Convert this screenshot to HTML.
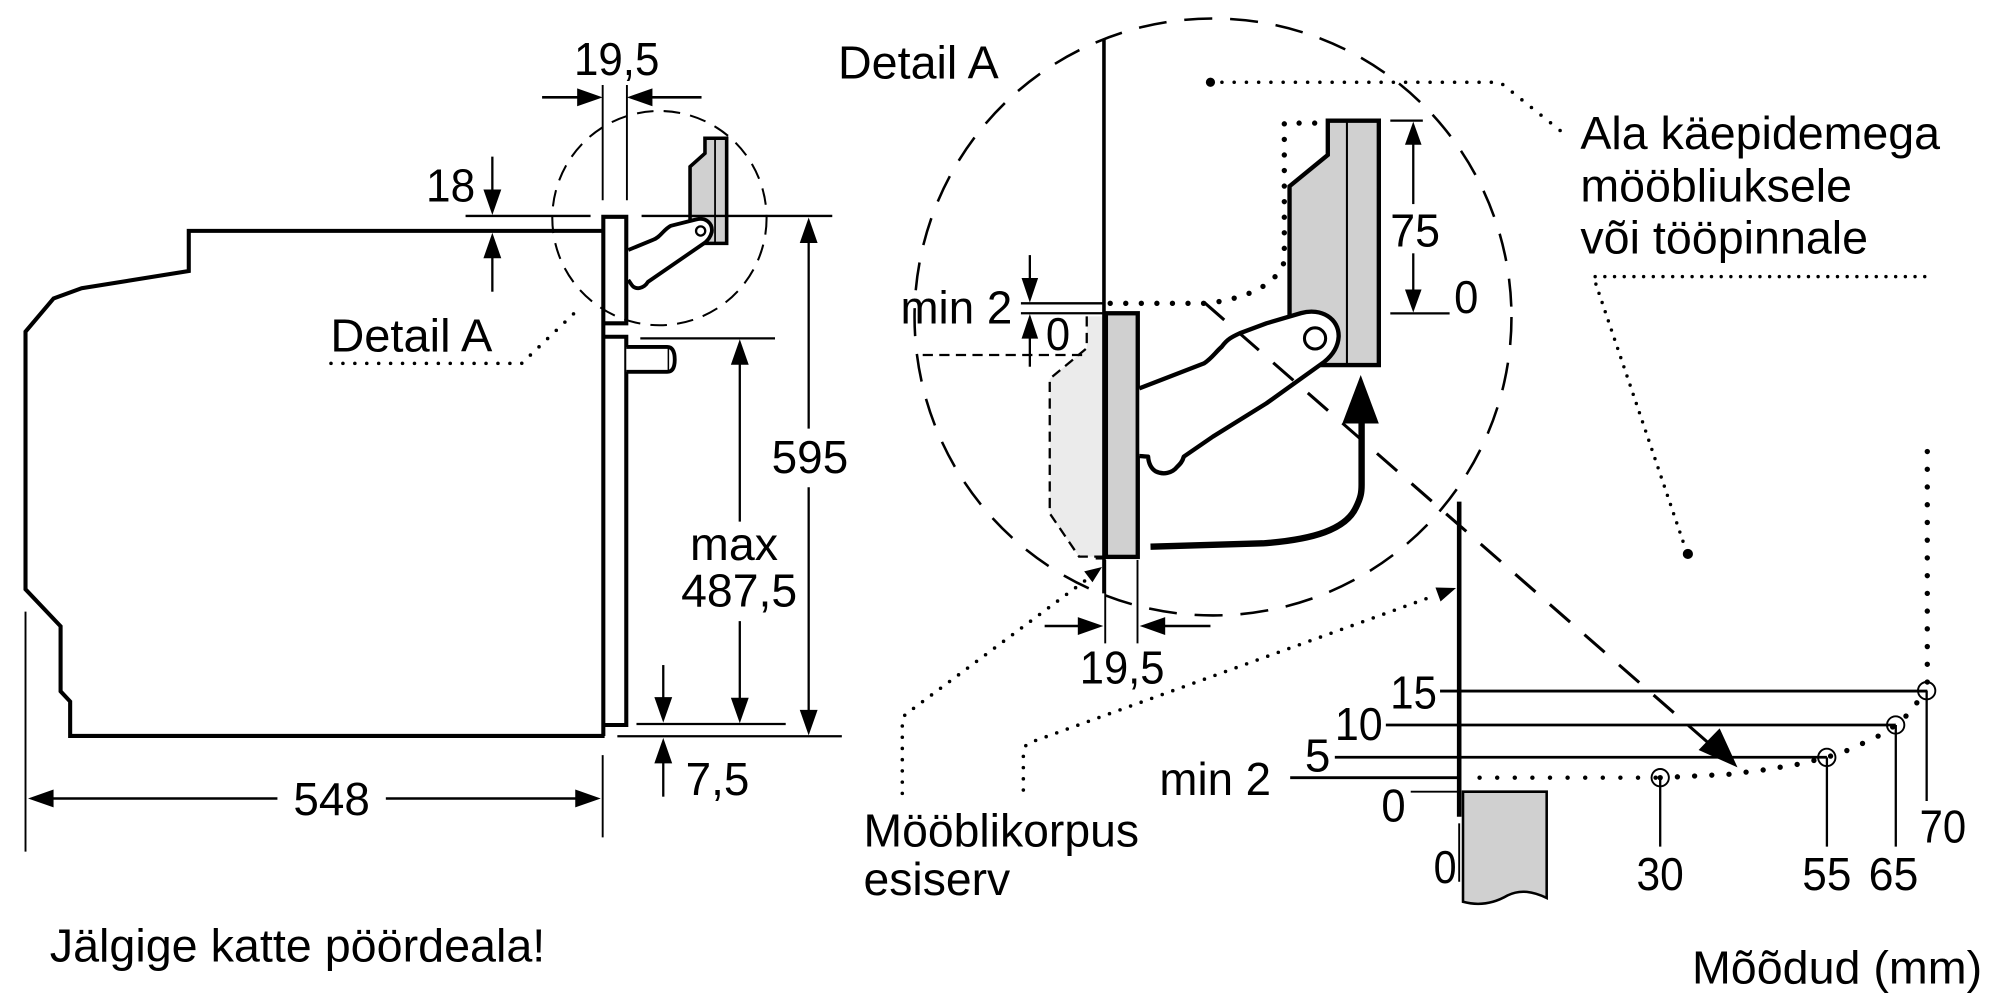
<!DOCTYPE html>
<html><head><meta charset="utf-8"><style>
html,body{margin:0;padding:0;background:#fff;}
svg{display:block;}
text{font-family:"Liberation Sans",Arial,sans-serif;font-size:36px;fill:#000;}
</style></head><body>
<svg width="2000" height="1000" viewBox="0 0 1568 784" preserveAspectRatio="none" xmlns="http://www.w3.org/2000/svg">
<rect x="0" y="0" width="1568" height="784" fill="#fff"/>

<!-- ================= LEFT: OVEN SIDE VIEW ================= -->
<circle cx="517" cy="171" r="84" fill="none" stroke="#000" stroke-width="1.6" stroke-dasharray="13 8"/>

<path d="M474,181 L148,181 L148,212.5 L64,226 L42,234 L20,260 L20,462 L47.5,491 L47.5,542 L55,550 L55,577 L474,577" fill="none" stroke="#000" stroke-width="3.2" stroke-linejoin="miter"/>
<path d="M473,577 L473,170 L491,170 L491,253.5 L473,253.5 M473,264 L491,264 L491,568.4 L473,568.4" fill="none" stroke="#000" stroke-width="3.2"/>
<path d="M491,272 L523,272 Q529,272 529,282 Q529,291.5 523,291.5 L491,291.5" fill="#fff" stroke="#000" stroke-width="3"/>
<line x1="524" y1="273" x2="524" y2="290.5" stroke="#000" stroke-width="1.2"/>

<polygon points="552.7,108.4 569.7,108.4 569.7,190.8 541,190.8 541,130.7 552.7,120.2" fill="#d0d0d0" stroke="#000" stroke-width="2.8"/>
<line x1="560.6" y1="109" x2="560.6" y2="190" stroke="#000" stroke-width="1.4"/>
<path d="M492.6,196 L512,188 C518,186 520,180 526,177 L546,172 C553,170 559,175 558,182 C557,186 555,188 553,190 L508,221 C505,226 498,228 495,223 L492.6,219.5" fill="#fff" stroke="#000" stroke-width="3"/>
<circle cx="549.3" cy="181.1" r="3.6" fill="#fff" stroke="#000" stroke-width="1.8"/>

<line x1="472.5" y1="66.6" x2="472.5" y2="157" stroke="#000" stroke-width="1.5"/>
<line x1="491.5" y1="66.6" x2="491.5" y2="157" stroke="#000" stroke-width="1.5"/>
<line x1="425" y1="76.3" x2="455" y2="76.3" stroke="#000" stroke-width="2"/>
<polygon points="472.5,76.3 452.5,69.3 452.5,83.3" fill="#000"/>
<line x1="510" y1="76.3" x2="550" y2="76.3" stroke="#000" stroke-width="2"/>
<polygon points="491.5,76.3 511.5,69.3 511.5,83.3" fill="#000"/>
<text x="450" y="59" textLength="67" lengthAdjust="spacingAndGlyphs">19,5</text>

<line x1="365" y1="169.3" x2="463" y2="169.3" stroke="#000" stroke-width="1.8"/>
<line x1="503" y1="169.3" x2="652.5" y2="169.3" stroke="#000" stroke-width="1.8"/>
<line x1="386" y1="122.8" x2="386" y2="150" stroke="#000" stroke-width="1.8"/>
<polygon points="386,168.6 379,148.6 393,148.6" fill="#000"/>
<line x1="386" y1="200" x2="386" y2="228.7" stroke="#000" stroke-width="1.8"/>
<polygon points="386,182.5 379,202.5 393,202.5" fill="#000"/>
<text x="334" y="158" textLength="38.5" lengthAdjust="spacingAndGlyphs">18</text>

<text x="259" y="275.7" textLength="127" lengthAdjust="spacingAndGlyphs">Detail A</text>
<path d="M259.5,284.9 L409,284.9 L456,240" fill="none" stroke="#000" stroke-width="2.8" stroke-linecap="round" stroke-dasharray="0 9.35"/>

<line x1="634" y1="188" x2="634" y2="336" stroke="#000" stroke-width="1.8"/>
<polygon points="634,170.5 627,190.5 641,190.5" fill="#000"/>
<line x1="634" y1="382" x2="634" y2="558" stroke="#000" stroke-width="1.8"/>
<polygon points="634,576.5 627,556.5 641,556.5" fill="#000"/>
<line x1="484" y1="577.2" x2="660" y2="577.2" stroke="#000" stroke-width="1.8"/>
<text x="605" y="371" textLength="60" lengthAdjust="spacingAndGlyphs">595</text>

<line x1="502" y1="265.3" x2="607.6" y2="265.3" stroke="#000" stroke-width="1.8"/>
<line x1="580" y1="284" x2="580" y2="409" stroke="#000" stroke-width="1.8"/>
<polygon points="580,266 573,286 587,286" fill="#000"/>
<line x1="580" y1="487" x2="580" y2="549" stroke="#000" stroke-width="1.8"/>
<polygon points="580,567 573,547 587,547" fill="#000"/>
<line x1="499" y1="567.6" x2="616" y2="567.6" stroke="#000" stroke-width="1.8"/>
<text x="541" y="439" textLength="69" lengthAdjust="spacingAndGlyphs">max</text>
<text x="534" y="475.6" textLength="91" lengthAdjust="spacingAndGlyphs">487,5</text>

<line x1="520" y1="521.4" x2="520" y2="548" stroke="#000" stroke-width="1.8"/>
<polygon points="520,566.5 513,546.5 527,546.5" fill="#000"/>
<line x1="520" y1="596" x2="520" y2="624.6" stroke="#000" stroke-width="1.8"/>
<polygon points="520,578.5 513,598.5 527,598.5" fill="#000"/>
<text x="537.5" y="623.3" textLength="50" lengthAdjust="spacingAndGlyphs">7,5</text>

<line x1="20" y1="479.5" x2="20" y2="667.7" stroke="#000" stroke-width="1.5"/>
<line x1="472.5" y1="592" x2="472.5" y2="656.5" stroke="#000" stroke-width="1.5"/>
<line x1="40" y1="626" x2="217.5" y2="626" stroke="#000" stroke-width="2"/>
<line x1="302.5" y1="626" x2="452" y2="626" stroke="#000" stroke-width="2"/>
<polygon points="22,626 42,619 42,633" fill="#000"/>
<polygon points="471,626 451,619 451,633" fill="#000"/>
<text x="230" y="639" textLength="60" lengthAdjust="spacingAndGlyphs">548</text>

<text x="39" y="754" textLength="388.5" lengthAdjust="spacingAndGlyphs">Jälgige katte pöördeala!</text>

<!-- ================= MIDDLE: DETAIL A ================= -->
<circle cx="951" cy="248.5" r="234" fill="none" stroke="#000" stroke-width="2" stroke-dasharray="22 14"/>
<text x="657" y="61.4" textLength="126" lengthAdjust="spacingAndGlyphs">Detail A</text>

<path d="M852,248 L852,273 L823,297 L823,402.5 L846,436.4 L867,436.4 L867,248 Z" fill="#ebebeb" stroke="none"/>
<path d="M852,248 L852,273 L823,297 L823,402.5 L846,436.4 L867,436.4" fill="none" stroke="#000" stroke-width="1.8" stroke-dasharray="8 5"/>
<line x1="723.4" y1="278.3" x2="852" y2="278.3" stroke="#000" stroke-width="1.8" stroke-dasharray="8 5"/>

<line x1="865.5" y1="30.6" x2="865.5" y2="465.2" stroke="#000" stroke-width="2.8"/>
<rect x="867" y="245.6" width="25" height="191" fill="#d0d0d0" stroke="#000" stroke-width="3.4"/>
<line x1="859" y1="437.5" x2="867" y2="437.5" stroke="#000" stroke-width="2.4"/>

<line x1="800.4" y1="237.8" x2="866" y2="237.8" stroke="#000" stroke-width="1.8"/>
<line x1="800.4" y1="245.6" x2="866" y2="245.6" stroke="#000" stroke-width="1.8"/>
<line x1="807.4" y1="200" x2="807.4" y2="220" stroke="#000" stroke-width="1.8"/>
<polygon points="807.4,237.3 800.9,218 813.9,218" fill="#000"/>
<line x1="807.4" y1="265" x2="807.4" y2="287.5" stroke="#000" stroke-width="1.8"/>
<polygon points="807.4,246.2 800.9,265.5 813.9,265.5" fill="#000"/>
<text x="706" y="253.5" textLength="87.6" lengthAdjust="spacingAndGlyphs">min 2</text>
<text x="820" y="274.4" textLength="19" lengthAdjust="spacingAndGlyphs">0</text>

<polygon points="1041,94.6 1081,94.6 1081,286.2 1011,286.2 1011,146 1041,121.5" fill="#d0d0d0" stroke="#000" stroke-width="3.4"/>
<line x1="1056" y1="95" x2="1056" y2="286" stroke="#000" stroke-width="1.6"/>

<path d="M870.4,237.8 L947,237.8 C975,234 1000,225 1006.9,205 L1006.9,96.5 L1036,96.5" fill="none" stroke="#000" stroke-width="4.2" stroke-linecap="round" stroke-dasharray="0 12.2"/>

<path d="M893.2,304.5 L943.9,284.9 C950,281 953,276 957.9,271.8 C962,266 966,264 971.9,261.3 L992.9,253.5 L1020,245.5 C1036,241 1050,250 1049.5,264 C1049,273 1044,279 1038.4,283.6 L992.9,316.2 L950.9,342.3 L928.1,358 C927,362 925,364 922.9,366 C919,371 912,372.5 906,369.5 C902,367 900.5,363 900.1,358 L893.2,357.5" fill="#fff" stroke="#000" stroke-width="3.4" stroke-linejoin="round"/>
<circle cx="1031" cy="265.3" r="8.3" fill="#fff" stroke="#000" stroke-width="2.4"/>

<path d="M902,428.6 L990,426 C1030,423 1055,415 1063,398 C1067,390 1067.5,386 1067.5,380 L1067.5,328" fill="none" stroke="#000" stroke-width="5"/>
<polygon points="1066.8,294 1052.4,332 1081,332" fill="#000"/>

<line x1="944" y1="237" x2="1340" y2="583" stroke="#000" stroke-width="2.4" stroke-dasharray="21 15"/>
<polygon points="1362.2,601.6 1331.7,588 1348.2,571" fill="#000"/>

<line x1="1090" y1="94.6" x2="1115.5" y2="94.6" stroke="#000" stroke-width="1.8"/>
<line x1="1090" y1="245.7" x2="1136.5" y2="245.7" stroke="#000" stroke-width="1.8"/>
<line x1="1108" y1="112" x2="1108" y2="160" stroke="#000" stroke-width="1.8"/>
<polygon points="1108,95.4 1101.5,113.5 1114.5,113.5" fill="#000"/>
<line x1="1108" y1="198.6" x2="1108" y2="228" stroke="#000" stroke-width="1.8"/>
<polygon points="1108,245 1101.5,227 1114.5,227" fill="#000"/>
<text x="1090" y="193.4" textLength="39" lengthAdjust="spacingAndGlyphs">75</text>
<text x="1140" y="245.6" textLength="19" lengthAdjust="spacingAndGlyphs">0</text>

<line x1="866.5" y1="439" x2="866.5" y2="504.4" stroke="#000" stroke-width="1.5"/>
<line x1="891.8" y1="439" x2="891.8" y2="504.4" stroke="#000" stroke-width="1.5"/>
<line x1="819" y1="490.8" x2="847" y2="490.8" stroke="#000" stroke-width="2"/>
<polygon points="865,490.8 845,483.8 845,497.8" fill="#000"/>
<line x1="911" y1="490.8" x2="949" y2="490.8" stroke="#000" stroke-width="2"/>
<polygon points="893.5,490.8 913.5,483.8 913.5,497.8" fill="#000"/>
<text x="846.5" y="535.7" textLength="66.5" lengthAdjust="spacingAndGlyphs">19,5</text>

<circle cx="949" cy="64.5" r="3.6" fill="#000"/>
<path d="M958,64.5 L1176,64.5 L1224,103" fill="none" stroke="#000" stroke-width="2.8" stroke-linecap="round" stroke-dasharray="0 9.6"/>
<text x="1239" y="117" textLength="282" lengthAdjust="spacingAndGlyphs">Ala käepidemega</text>
<text x="1239" y="158" textLength="213" lengthAdjust="spacingAndGlyphs">mööbliuksele</text>
<text x="1239" y="198.6" textLength="225.6" lengthAdjust="spacingAndGlyphs">või tööpinnale</text>
<path d="M1509,216.9 L1249.2,216.9 L1320,426" fill="none" stroke="#000" stroke-width="2.7" stroke-linecap="round" stroke-dasharray="0 7.6"/>
<circle cx="1323.3" cy="434.3" r="4" fill="#000"/>

<path d="M707.4,622 L707.4,567 Q707.5,561 712,558.5 L855,452" fill="none" stroke="#000" stroke-width="2.8" stroke-linecap="round" stroke-dasharray="0 8.8"/>
<polygon points="864,444.5 856.5,456.5 850,448" fill="#000"/>
<path d="M802.3,619.4 L802.3,590.6 Q802.5,584 808,582 L1126,466.5" fill="none" stroke="#000" stroke-width="2.8" stroke-linecap="round" stroke-dasharray="0 8.8"/>
<polygon points="1141.5,461 1129.4,471.6 1125.4,460.6" fill="#000"/>
<text x="677" y="663.8" textLength="216" lengthAdjust="spacingAndGlyphs">Mööblikorpus</text>
<text x="677" y="701.7" textLength="115" lengthAdjust="spacingAndGlyphs">esiserv</text>

<!-- ================= RIGHT: GRAPH ================= -->
<line x1="1511" y1="354" x2="1511" y2="535" stroke="#000" stroke-width="4.2" stroke-linecap="round" stroke-dasharray="0 13.9"/>

<line x1="1129" y1="541.8" x2="1511" y2="541.8" stroke="#000" stroke-width="2.2"/>
<line x1="1086.5" y1="568.4" x2="1486.3" y2="568.4" stroke="#000" stroke-width="2.2"/>
<line x1="1046.5" y1="593.7" x2="1432.3" y2="593.7" stroke="#000" stroke-width="2.2"/>
<line x1="1011.5" y1="609.7" x2="1143" y2="609.7" stroke="#000" stroke-width="2.2"/>
<line x1="1106" y1="620.7" x2="1143" y2="620.7" stroke="#000" stroke-width="1.5"/>

<path d="M1147,620.7 L1212.6,620.7 L1212.6,704 C1202,699 1192,697 1182,702 C1170,709 1158,710 1147,707 Z" fill="#d0d0d0" stroke="#000" stroke-width="2"/>
<line x1="1144" y1="393.3" x2="1144" y2="640.3" stroke="#000" stroke-width="3.6"/>
<line x1="1144" y1="645.5" x2="1144" y2="691.3" stroke="#000" stroke-width="1.5"/>

<line x1="1301.6" y1="609.7" x2="1301.6" y2="663.8" stroke="#000" stroke-width="1.8"/>
<line x1="1432.3" y1="593.8" x2="1432.3" y2="663.8" stroke="#000" stroke-width="1.8"/>
<line x1="1486.3" y1="568.4" x2="1486.3" y2="663.8" stroke="#000" stroke-width="1.8"/>
<line x1="1510.5" y1="541.5" x2="1510.5" y2="628" stroke="#000" stroke-width="1.8"/>

<line x1="1160" y1="609.7" x2="1300" y2="609.7" stroke="#000" stroke-width="3.5" stroke-linecap="round" stroke-dasharray="0 13.8"/>
<polyline points="1301.6,609.7 1354.8,607.1 1382.1,603.7 1409.6,599.2 1432.2,593.8 1449.2,588 1474.2,576.3 1486.2,568.4 1496.7,559.3 1505,548 1510.2,541.5" fill="none" stroke="#000" stroke-width="4.2" stroke-linecap="round" stroke-dasharray="0 13.5"/>

<circle cx="1301.6" cy="609.7" r="6.8" fill="none" stroke="#000" stroke-width="1.5"/>
<circle cx="1432.2" cy="593.8" r="6.8" fill="none" stroke="#000" stroke-width="1.5"/>
<circle cx="1486.2" cy="568.4" r="6.8" fill="none" stroke="#000" stroke-width="1.5"/>
<circle cx="1510.5" cy="541.5" r="6.8" fill="none" stroke="#000" stroke-width="1.5"/>

<text x="1090" y="555.3" textLength="36.5" lengthAdjust="spacingAndGlyphs">15</text>
<text x="1046.5" y="580.2" textLength="37.5" lengthAdjust="spacingAndGlyphs">10</text>
<text x="1023" y="605" textLength="20" lengthAdjust="spacingAndGlyphs">5</text>
<text x="909" y="623.3" textLength="87.5" lengthAdjust="spacingAndGlyphs">min 2</text>
<text x="1083" y="644.2" textLength="19" lengthAdjust="spacingAndGlyphs">0</text>
<text x="1124" y="692.3" textLength="18" lengthAdjust="spacingAndGlyphs">0</text>
<text x="1283" y="697.8" textLength="37" lengthAdjust="spacingAndGlyphs">30</text>
<text x="1413" y="697.8" textLength="38.5" lengthAdjust="spacingAndGlyphs">55</text>
<text x="1465" y="697.8" textLength="39" lengthAdjust="spacingAndGlyphs">65</text>
<text x="1505" y="660.5" textLength="36.5" lengthAdjust="spacingAndGlyphs">70</text>

<text x="1326.5" y="771" textLength="227.5" lengthAdjust="spacingAndGlyphs">Mõõdud (mm)</text>
</svg>
</body></html>
